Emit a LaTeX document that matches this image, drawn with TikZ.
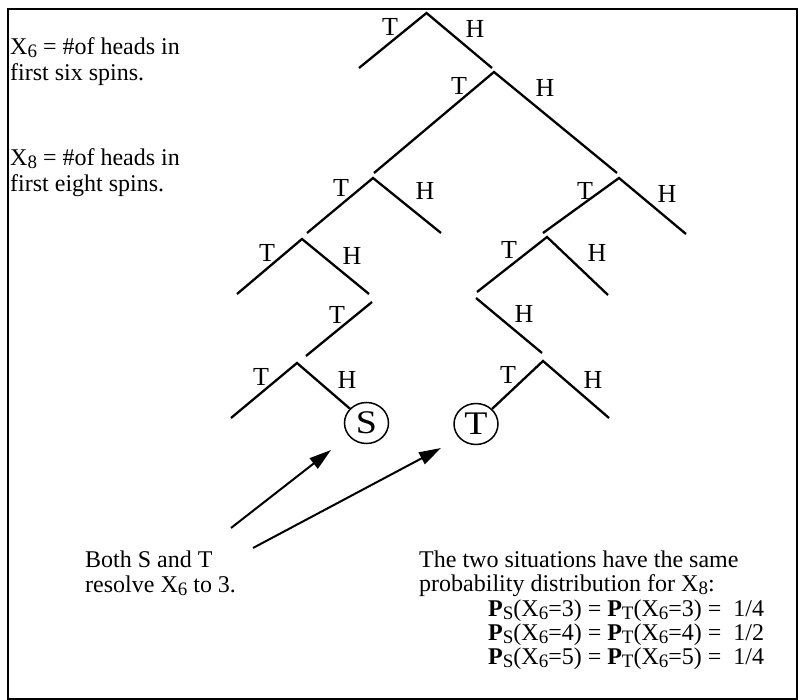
\documentclass[tikz,border=0pt]{standalone}
\usepackage{fontspec}
\setmainfont{Liberation Serif}
\newfontfamily\lblfont{Liberation Serif}
\newfontfamily\circfont{Liberation Serif}[FakeStretch=1.15]
\usetikzlibrary{arrows.meta,shapes.geometric}
\newcommand{\sbx}[1]{\raisebox{-3pt}{\fontsize{19}{19}\selectfont #1}}
\begin{document}
\begin{tikzpicture}[x=1pt,y=-1pt,
  edge/.style={line width=2.3pt},
  lbl/.style={inner sep=0pt,font=\lblfont\fontsize{26}{26}\selectfont},
  txt/.style={inner sep=0pt,anchor=base west,font=\fontsize{24}{24}\selectfont},
  endnode/.style={draw,ellipse,line width=1.5pt,minimum width=44pt,minimum height=41pt,inner sep=0pt,font=\circfont\fontsize{33}{33}\selectfont},
  arr/.style={line width=2pt,-{Triangle[length=22pt,width=13pt]}}]
\useasboundingbox (0,0) rectangle (798,700);
\draw[line width=2pt] (8,9) rectangle (797,699);
% tree coordinates
\coordinate (r) at (426.5,13);
\coordinate (rT) at (359,68);
\coordinate (rH) at (492,68);
\coordinate (n2) at (494,72);
\coordinate (n2T) at (374,173);
\coordinate (n2H) at (617,173);
\coordinate (n3L) at (373,178);
\coordinate (n3LT) at (307,233);
\coordinate (n3LH) at (441,233);
\coordinate (n3R) at (619,178);
\coordinate (n3RT) at (543,233);
\coordinate (n3RH) at (686,234);
\coordinate (n4L) at (302,239);
\coordinate (n4LT) at (237,294);
\coordinate (n4LH) at (369,294);
\coordinate (s5L) at (372,302);
\coordinate (s5LT) at (306,356);
\coordinate (n6L) at (297,363);
\coordinate (n6LT) at (231,418);
\coordinate (n4R) at (547,237);
\coordinate (n4RT) at (477,292);
\coordinate (n4RH) at (608,295);
\coordinate (s5R) at (476,298);
\coordinate (s5RH) at (542,353);
\coordinate (n6R) at (543,361);
\coordinate (n6RH) at (609,418);
\node[endnode] (S) at (366.5,423) {S};
\node[endnode] (T) at (476,424) {T};
% branches
\draw[edge] (rT) -- (r) -- (rH);
\draw[edge] (n2T) -- (n2) -- (n2H);
\draw[edge] (n3LT) -- (n3L) -- (n3LH);
\draw[edge] (n3RT) -- (n3R) -- (n3RH);
\draw[edge] (n4LT) -- (n4L) -- (n4LH);
\draw[edge] (s5L) -- (s5LT);
\draw[edge] (n6LT) -- (n6L) -- (S);
\draw[edge] (n4RT) -- (n4R) -- (n4RH);
\draw[edge] (s5R) -- (s5RH);
\draw[edge] (T) -- (n6R) -- (n6RH);
% labels
\node[lbl] (lrT) at (390,27) {T};
\node[lbl] (lrH) at (475,29) {H};
\node[lbl] (l2T) at (459,86) {T};
\node[lbl] (l2H) at (545,88) {H};
\node[lbl] (l3LT) at (341,188) {T};
\node[lbl] (l3LH) at (425,191) {H};
\node[lbl] (l3RT) at (585,191) {T};
\node[lbl] (l3RH) at (667,194) {H};
\node[lbl] (l4LT) at (267,253) {T};
\node[lbl] (l4LH) at (352,256) {H};
\node[lbl] (l5LT) at (337,315) {T};
\node[lbl] (l6LT) at (261,377) {T};
\node[lbl] (l6LH) at (347,380) {H};
\node[lbl] (l4RT) at (509,250) {T};
\node[lbl] (l4RH) at (597,253) {H};
\node[lbl] (l5RH) at (524,314) {H};
\node[lbl] (l6RT) at (508,375) {T};
\node[lbl] (l6RH) at (593,380) {H};
% texts
\node[txt] (x6a) at (10,55) {X\sbx{6} = \#of heads in};
\node[txt] (x6b) at (10,81) {first six spins.};
\node[txt] (x8a) at (10,166) {X\sbx{8} = \#of heads in};
\node[txt] (x8b) at (10,192) {first eight spins.};
\node[txt] (b1) at (85,567) {Both S and T};
\node[txt] (b2) at (85,592) {resolve X\sbx{6} to 3.};
\node[txt] (r1) at (419,567) {The two situations have the same};
\node[txt] (r2) at (419,591) {probability distribution for X\sbx{8}:};
\node[txt] (p1) at (488,616) {\textbf{P}\sbx{S}(X\sbx{6}=3) = \textbf{P}\sbx{T}(X\sbx{6}=3) = \ 1/4};
\node[txt] (p2) at (488,640) {\textbf{P}\sbx{S}(X\sbx{6}=4) = \textbf{P}\sbx{T}(X\sbx{6}=4) = \ 1/2};
\node[txt] (p3) at (488,664) {\textbf{P}\sbx{S}(X\sbx{6}=5) = \textbf{P}\sbx{T}(X\sbx{6}=5) = \ 1/4};
% arrows
\coordinate (a1s) at (231,528);
\coordinate (a1e) at (331,450);
\coordinate (a2s) at (253,548);
\coordinate (a2e) at (441,448);
\draw[arr] (a1s) -- (a1e);
\draw[arr] (a2s) -- (a2e);
\end{tikzpicture}
\end{document}
